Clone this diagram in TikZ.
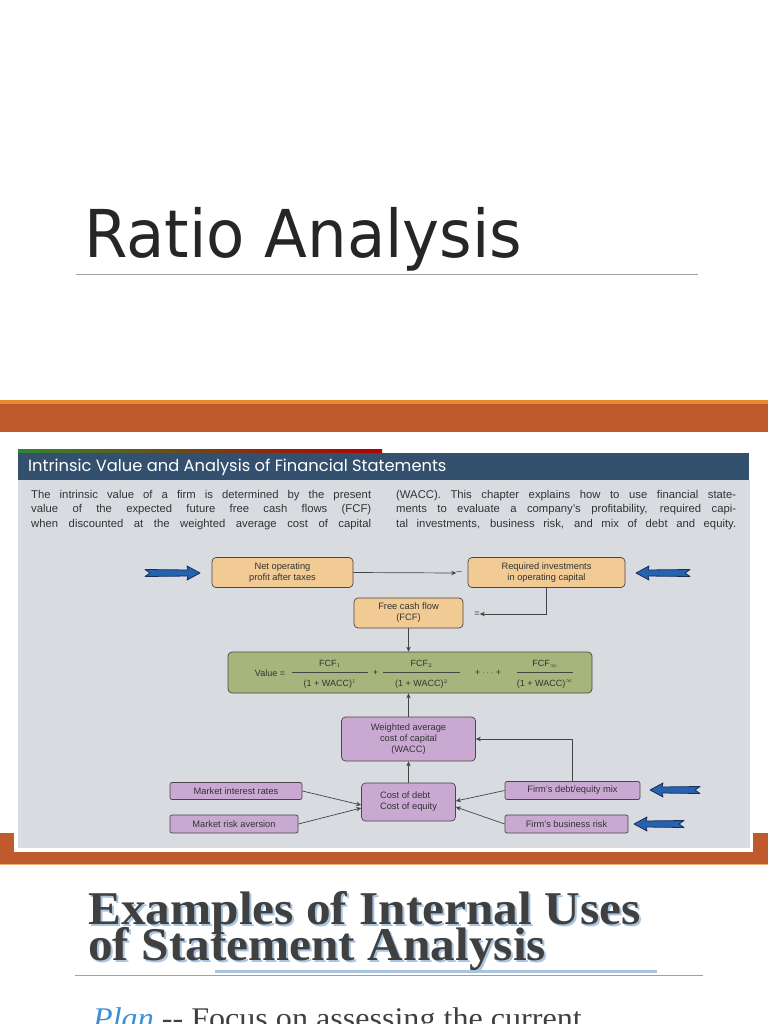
\documentclass[tikz,border=0pt]{standalone}
\usepackage{fontspec}
\setmainfont{Liberation Sans}
\newfontfamily\titlefont{DejaVu Sans}
\newfontfamily\slabfont{Liberation Serif}
\newfontfamily\headfont{Poppins}
\usetikzlibrary{arrows.meta,calc}
\definecolor{bandorange}{HTML}{BE5A2C}
\definecolor{bandlight}{HTML}{E88A2A}
\definecolor{headblue}{HTML}{33516F}
\definecolor{panelgray}{HTML}{D8DBE0}
\definecolor{tanfill}{HTML}{F2CB94}
\definecolor{greenfill}{HTML}{A6B57C}
\definecolor{purplefill}{HTML}{C9A9D2}
\definecolor{boxline}{HTML}{4D4545}
\definecolor{txtgray}{HTML}{333333}
\definecolor{linegray}{HTML}{444444}
\definecolor{arrowblue}{HTML}{2463B0}
\definecolor{arrownavy}{HTML}{1A2E58}
\definecolor{titlegray}{HTML}{262626}
\definecolor{slabgray}{HTML}{404040}
\definecolor{shadowblue}{HTML}{A9C5E2}
\definecolor{planblue}{HTML}{3A8FD8}
\definecolor{rulegray}{HTML}{A0A0A0}
\tikzset{
  box/.style={draw=boxline, line width=0.7pt, rounded corners=4pt, align=center,
    font=\fontsize{9.3}{11}\selectfont, text=txtgray, inner sep=1pt},
  tanbox/.style={box, fill=tanfill},
  greenbox/.style={box, fill=greenfill},
  purplebox/.style={box, fill=purplefill},
  smallbox/.style={purplebox, rounded corners=2pt},
  conn/.style={draw=linegray, line width=0.7pt, -{Stealth[length=5pt,width=4.5pt]}},
  fatarrowstyle/.style={fill=arrowblue, draw=arrownavy, line width=0.8pt, line join=round},
  formula/.style={font=\fontsize{9}{10}\selectfont, text=txtgray, inner sep=0pt},
  fracbar/.style={draw=linegray, line width=0.5pt},
  bodytext/.style={anchor=base west, inner sep=0pt, text=txtgray, font=\fontsize{11.3}{13}\selectfont},
  slab/.style={anchor=base west, inner sep=0pt, font=\slabfont\bfseries\fontsize{47}{50}\selectfont},
}
\newcommand\fatarrow[4]{%
  \begin{scope}[shift={(#1,#2)},xscale=#4]
    \filldraw[fatarrowstyle] (-#3,-3.5) -- (-12,-3) -- (-13,-7) -- (0,0) -- (-13,7)
      -- (-12,3) -- (-#3,3.5) -- (-#3+5,0) -- cycle;
  \end{scope}}
\begin{document}
\begin{tikzpicture}[x=1pt,y=-1pt]
\useasboundingbox (0,0) rectangle (768,1024);
\begin{scope}
\clip (0,0) rectangle (768,1024);
\fill[white] (0,0) rectangle (768,1024);

% title
\node[anchor=base west, inner sep=0pt, text=titlegray, font=\titlefont\fontsize{66}{70}\selectfont]
  (title) at (84,257) {\scalebox{0.948}[1]{Ratio Analysis}};
\draw[rulegray, line width=1pt] (76,274) -- (698,274);

% top orange band
\fill[bandorange] (0,400) rectangle (768,432);
\fill[bandlight] (0,400) rectangle (768,403.5);

% bottom orange band
\fill[bandorange] (0,833) rectangle (768,865);
\fill[bandlight!70!white] (0,864) rectangle (768,865);

% picture frame
\fill[white] (14,446) rectangle (753,852);
\shade[left color=green!40!black!80, middle color=orange!70!brown, right color=red!70!black]
  (18,449.5) rectangle (382,453);
\fill[headblue] (18,453) rectangle (749,480);
\fill[panelgray] (18,480) rectangle (750,848);
\node[anchor=west, inner sep=0pt, text=white, font=\headfont\fontsize{16.3}{18}\selectfont]
  (head) at (28,467) {Intrinsic Value and Analysis of Financial Statements};

% body text
\node[bodytext] (l1) at (31,498) {\makebox[340pt][s]{The intrinsic value of a firm is determined by the present}};
\node[bodytext] (l2) at (31,512.5) {\makebox[340pt][s]{value of the expected future free cash flows (FCF)}};
\node[bodytext] (l3) at (31,527) {\makebox[340pt][s]{when discounted at the weighted average cost of capital}};
\node[bodytext] (r1) at (396,498) {\makebox[340pt][s]{(WACC). This chapter explains how to use financial state-}};
\node[bodytext] (r2) at (396,512.5) {\makebox[340pt][s]{ments to evaluate a company's profitability, required capi-}};
\node[bodytext] (r3) at (396,527) {\makebox[340pt][s]{tal investments, business risk, and mix of debt and equity.}};

% boxes
\node[tanbox, minimum width=141pt, minimum height=30pt] (nopat) at (282.5,572.5) {Net operating\\profit after taxes};
\node[tanbox, minimum width=157pt, minimum height=30pt] (reqinv) at (546.5,572.5) {Required investments\\in operating capital};
\node[tanbox, minimum width=109pt, minimum height=30pt] (fcf) at (408.5,613) {Free cash flow\\(FCF)};
\node[greenbox, minimum width=364pt, minimum height=41pt] (value) at (410,672.5) {};
\node[purplebox, minimum width=134pt, minimum height=44pt] (wacc) at (408.5,739) {Weighted average\\cost of capital\\(WACC)};
\node[purplebox, minimum width=94pt, minimum height=38pt, align=left] (cost) at (408.5,802) {Cost of debt\\Cost of equity};
\node[smallbox, minimum width=132pt, minimum height=17pt] (mir) at (236,791) {Market interest rates};
\node[smallbox, minimum width=128pt, minimum height=18pt] (mra) at (234,824) {Market risk aversion};
\node[smallbox, minimum width=135pt, minimum height=18pt] (dem) at (572.5,790.5) {Firm's debt/equity mix};
\node[smallbox, minimum width=123pt, minimum height=18pt] (fbr) at (566.5,824) {Firm's business risk};

% signs
\node[formula] (minus) at (459,573) {--};
\node[formula] (equals) at (477,614) {=};

% formula
\node[formula] (vlabel) at (270,673) {Value =};
\node[formula] (n1) at (330,664) {FCF$_1$};
\draw[fracbar] (292,672) -- (368,672);
\node[formula] (d1) at (330,684) {(1 + WACC)$^1$};
\node[formula] (p1) at (375.5,673) {+};
\node[formula] (n2) at (421.5,664) {FCF$_2$};
\draw[fracbar] (383,672) -- (460,672);
\node[formula] (d2) at (421.5,684) {(1 + WACC)$^2$};
\node[formula] (dots) at (488,673) {+ $\cdots$ +};
\node[formula] (n3) at (545,664) {FCF$_\infty$};
\draw[fracbar] (517,672) -- (573,672);
\node[formula] (d3) at (545,684) {(1 + WACC)$^\infty$};

% connectors
\draw[conn] (nopat.east) -- (minus.west);
\coordinate (bend1) at (reqinv.south |- equals);
\draw[conn] (reqinv.south) -- (bend1) -- (equals.east);
\draw[conn] (fcf.south) -- (fcf.south |- value.north);
\draw[conn] (wacc.north) -- (wacc.north |- value.south);
\draw[conn] (cost.north) -- (cost.north |- wacc.south);
\coordinate (bend2) at (dem.north |- wacc.east);
\draw[conn] (dem.north) -- (bend2) -- (wacc.east);
\draw[conn] (mir.east) -- ($(cost.west)+(0,3)$);
\draw[conn] (mra.east) -- ($(cost.west)+(0,6)$);
\draw[conn] (dem.west) -- ($(cost.east)+(0,-1)$);
\draw[conn] (fbr.west) -- ($(cost.east)+(0,5)$);

% blue arrows
\fatarrow{200}{573}{55}{1}
\fatarrow{636}{573}{54}{-1}
\fatarrow{650}{790}{50}{-1}
\fatarrow{634}{824}{50}{-1}

% second title with shadow
\fill[shadowblue] (215,969.5) rectangle (657,973);
\draw[rulegray, line width=1pt] (75,975) -- (703,975);
\node[slab, text=shadowblue] at (90,926) {\scalebox{1.05}[1]{Examples of Internal Uses}};
\node[slab, text=shadowblue] at (90,962) {\scalebox{1.05}[1]{of Statement Analysis}};
\node[slab, text=slabgray] (ex1) at (88,924) {\scalebox{1.05}[1]{Examples of Internal Uses}};
\node[slab, text=slabgray] (ex2) at (88,960) {\scalebox{1.05}[1]{of Statement Analysis}};

\node[anchor=base west, inner sep=0pt, text=slabgray, font=\slabfont\fontsize{30}{32}\selectfont]
  (plan) at (93,1028) {\scalebox{1.07}[1]{\textcolor{planblue}{\itshape Plan} -{}- Focus on assessing the current}};
\end{scope}
\end{tikzpicture}
\end{document}
